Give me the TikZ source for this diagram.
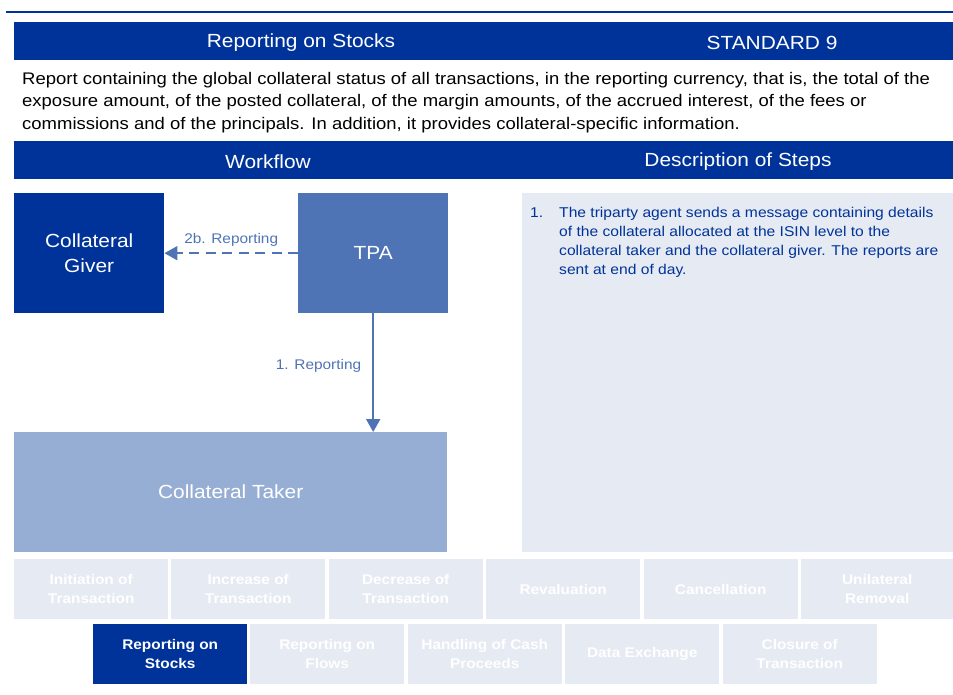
\documentclass[tikz,border=0pt]{standalone}
\usepackage{fontspec}
\setmainfont[FakeStretch=1.1]{Liberation Sans}
\usetikzlibrary{arrows.meta}
\definecolor{dblue}{RGB}{0,51,153}
\definecolor{tpablue}{RGB}{79,116,182}
\definecolor{takerblue}{RGB}{151,174,212}
\definecolor{pale}{RGB}{230,234,243}
\tikzset{
  bar/.style={fill=dblue, draw=none},
  barlabel/.style={text=white, font=\fontsize{19}{22}\selectfont, inner sep=0pt},
  party/.style={draw=none, text=white, font=\fontsize{19}{25}\selectfont, align=center, inner sep=0pt, minimum width=150pt, minimum height=120pt},
  tab/.style={draw=none, fill=pale, text=white, font=\fontsize{14}{19}\selectfont\bfseries, align=center, inner sep=0pt, minimum width=154pt, minimum height=60pt},
  acttab/.style={tab, fill=dblue},
  conn/.style={draw=tpablue, line width=2pt},
  lbl/.style={text=tpablue, font=\fontsize{14}{17}\selectfont, inner sep=0pt}
}
\begin{document}
\begin{tikzpicture}[x=1pt,y=-1pt]
\useasboundingbox (0,0) rectangle (953,695);
% top rule
\draw[dblue, line width=2pt] (6,12.5) -- (953,12.5);
% header bar
\path[bar] (14,22) rectangle (953,60);
\node[barlabel] (title) at (301,43) {Reporting on Stocks};
\node[barlabel] (std) at (772,43) {STANDARD 9};
% description paragraph
\node[anchor=north west, align=left, inner sep=0pt, font=\fontsize{16.8}{22.5}\selectfont] (intro) at (22,72)
 {Report containing the global collateral status of all transactions, in the reporting currency, that is, the total of the\\
  exposure amount, of the posted collateral, of the margin amounts, of the accrued interest, of the fees or\\
  commissions and of the principals. In addition, it provides collateral-specific information.};
% section bar
\path[bar] (14,141) rectangle (953,179);
\node[barlabel] (wf) at (268,161.5) {Workflow};
\node[barlabel] (ds) at (738,161.5) {Description of Steps};
% parties
\node[party, fill=dblue, anchor=north west] (giver) at (14,193) {Collateral\\Giver};
\node[party, fill=tpablue, anchor=north west] (tpa) at (298,193) {\raisebox{-2pt}{TPA}};
\node[party, fill=takerblue, anchor=north west, minimum width=433pt, minimum height=120pt] (taker) at (14,432) {\raisebox{-1pt}{Collateral Taker}};
% connectors
\draw[conn, -{Triangle[length=13pt,width=14pt]}] (tpa.south) -- node[lbl, left=11pt, pos=0.44] (l1) {1. Reporting} (tpa.south |- taker.north);
\draw[conn, dash pattern=on 10pt off 6.5pt, -{Triangle[length=13pt,width=14pt]}] (tpa.west) -- node[lbl, above=6pt] (l2) {2b. Reporting} (giver.east);
% steps panel
\node[draw=none, fill=pale, anchor=north west, minimum width=431pt, minimum height=359pt, inner sep=0pt] (panel) at (522,193) {};
\node[anchor=base west, inner sep=0pt, text=dblue, font=\fontsize{14.2}{19}\selectfont] (n1) at (530,218) {1.};
\node[anchor=north west, align=left, inner sep=0pt, text=dblue, font=\fontsize{14.2}{19}\selectfont] (s1) at (559,207)
 {The triparty agent sends a message containing details\\
  of the collateral allocated at the ISIN level to the\\
  collateral taker and the collateral giver. The reports are\\
  sent at end of day.};
% tabs row 1
\node[tab, anchor=north west] (t1) at (14,559) {Initiation of\\Transaction};
\node[tab, anchor=north west] (t2) at (171,559) {Increase of\\Transaction};
\node[tab, anchor=north west] (t3) at (328.5,559) {Decrease of\\Transaction};
\node[tab, anchor=north west] (t4) at (486,559) {Revaluation};
\node[tab, anchor=north west] (t5) at (643.5,559) {Cancellation};
\node[tab, anchor=north west, minimum width=152pt] (t6) at (801,559) {Unilateral\\Removal};
% tabs row 2
\node[acttab, anchor=north west] (u1) at (93,624) {Reporting on\\Stocks};
\node[tab, anchor=north west] (u2) at (250,624) {Reporting on\\Flows};
\node[tab, anchor=north west] (u3) at (407.5,624) {Handling of Cash\\Proceeds};
\node[tab, anchor=north west] (u4) at (565,624) {Data Exchange};
\node[tab, anchor=north west] (u5) at (722.5,624) {Closure of\\Transaction};
\end{tikzpicture}
\end{document}
